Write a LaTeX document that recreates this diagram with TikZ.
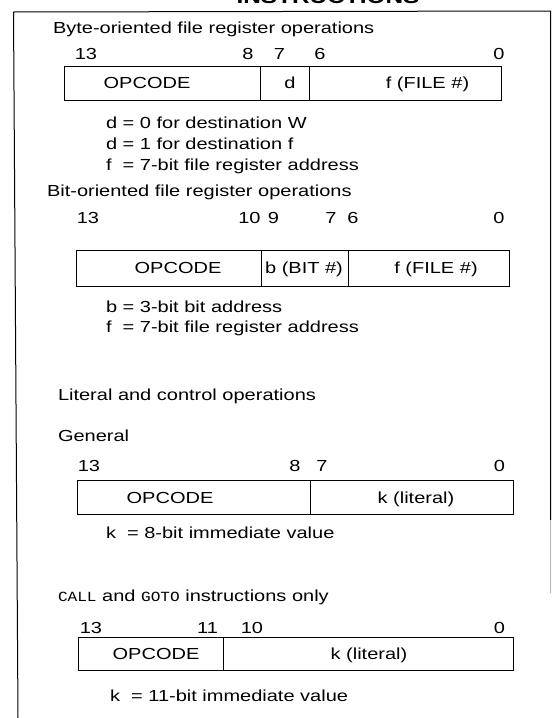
\documentclass[tikz,border=0pt]{standalone}
\usepackage{fontspec}
\setmainfont[FakeStretch=1.25]{Liberation Sans}
\newfontfamily\codefont[FakeStretch=1.15]{Liberation Mono}
\begin{document}
\begin{tikzpicture}[x=1pt,y=-1pt]
\tikzset{
  txt/.style={inner sep=0pt, outer sep=0pt, font=\fontsize{16}{19}\selectfont},
  lab/.style={txt, anchor=base west},
  num/.style={txt, anchor=base},
  fld/.style={draw, line width=0.8pt},
  frame/.style={line width=1pt}
}
\useasboundingbox (0,0) rectangle (555,718);
\clip (0,0) rectangle (555,718);
% cut-off heading
\node[num, font=\fontsize{19.5}{22}\selectfont\bfseries] (head) at (328,3) {INSTRUCTIONS};
% frame
\draw[frame] (18,718) -- (13.5,12) -- (550.5,11) -- (550.5,520);
\draw[frame, gray!60] (550.5,520) -- (550.5,593);

% ---- Byte-oriented
\node[lab] (t1) at (53,33.5) {Byte-oriented file register operations};
\node[num] (a13) at (86,59.5) {13};
\node[num] (a8) at (248,59.5) {8};
\node[num] (a7) at (279.5,59.5) {7};
\node[num] (a6) at (320,59.5) {6};
\node[num] (a0) at (499,59.5) {0};
\draw[fld] (64.8,66.7) rectangle (500.9,100.7);
\draw[fld] (260.2,66.7) -- (260.2,100.7);
\draw[fld] (309,66.7) -- (309,100.7);
\node[num] (a1) at (147,88.5) {OPCODE};
\node[num] (a2) at (290,88.5) {d};
\node[num] (a3) at (427.5,88.5) {f (FILE \#)};
\node[lab] (n11) at (106,128) {d = 0 for destination W};
\node[lab] (n12) at (106,149) {d = 1 for destination f};
\node[lab] (n13) at (106,170) {\rlap{f}\phantom{d} = 7-bit file register address};

% ---- Bit-oriented
\node[lab] (t2) at (47,196.7) {Bit-oriented file register operations};
\node[num] (b13) at (88,223.3) {13};
\node[num] (b10) at (249.5,223.3) {10};
\node[num] (b9) at (273.5,223.3) {9};
\node[num] (b7) at (331,223.3) {7};
\node[num] (b6) at (353,223.3) {6};
\node[num] (b0) at (499,223.3) {0};
\draw[fld] (76,250) rectangle (509.7,286.7);
\draw[fld] (261,250) -- (261,286.7);
\draw[fld] (348,250) -- (348,286.7);
\node[num] (b1) at (178,273.5) {OPCODE};
\node[num] (b2) at (304,273.5) {b (BIT \#)};
\node[num] (b3) at (436,273.5) {f (FILE \#)};
\node[lab] (n21) at (106,312) {b = 3-bit bit address};
\node[lab] (n22) at (106,332.5) {\rlap{f}\phantom{b} = 7-bit file register address};

% ---- Literal and control
\node[lab] (t3) at (58,400) {Literal and control operations};
\node[lab] (t4) at (58,441.7) {General};
\node[num] (c13) at (89,471.7) {13};
\node[num] (c8) at (295,471.7) {8};
\node[num] (c7) at (322,471.7) {7};
\node[num] (c0) at (499.5,471.7) {0};
\draw[fld] (77,480.7) rectangle (513,514.3);
\draw[fld] (310,480.7) -- (310,514.3);
\node[num] (c1) at (170,503) {OPCODE};
\node[num] (c2) at (416,503) {k (literal)};
\node[lab] (n31) at (106,538) {k \ = 8-bit immediate value};

% ---- CALL and GOTO
\node[lab] (t5) at (58,601.7) {{\codefont\fontsize{14}{16}\selectfont CALL} and {\codefont\fontsize{14}{16}\selectfont GOTO} instructions only};
\node[num] (d13) at (91,633) {13};
\node[num] (d11) at (207.5,633) {11};
\node[num] (d10) at (252,633) {10};
\node[num] (d0) at (499.5,633) {0};
\draw[fld] (78,637.7) rectangle (513,670.5);
\draw[fld] (223.7,637.7) -- (223.7,670.5);
\node[num] (d1) at (156,659.5) {OPCODE};
\node[num] (d2) at (369,659.5) {k (literal)};
\node[lab] (n41) at (110,701.7) {k \ = 11-bit immediate value};
\end{tikzpicture}
\end{document}
